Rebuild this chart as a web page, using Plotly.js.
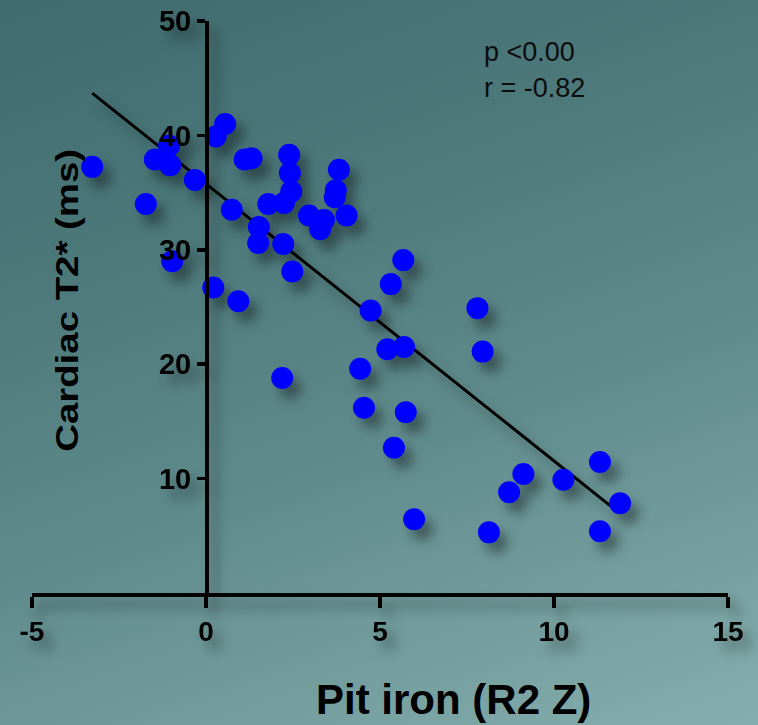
<!DOCTYPE html>
<html>
<head>
<meta charset="utf-8">
<script src="https://cdn.plot.ly/plotly-3.0.1.min.js"></script>
<style>
  html, body { margin: 0; padding: 0; }
  body {
    width: 758px; height: 725px; overflow: hidden;
    background: linear-gradient(160deg, #3f6b6f 0%, #4d797b 30%, #618c8d 60%, #86aeae 100%);
  }
  #chart { width: 758px; height: 725px; }
  #chart .svg-container > svg.main-svg:first-of-type {
    filter: drop-shadow(8px 10px 6px rgba(0,0,0,0.38));
  }
</style>
</head>
<body>
<div id="chart"></div>
<script>
// Scatter data: Pit iron (R2 Z) vs Cardiac T2* (ms)
const pitIron = [
  -3.27, -1.47, -1.06, -1.03, -1.73, -0.32, 0.28, 0.55, 1.11, 1.31,
  0.74, -0.97, 0.21, 0.93, 2.39, 2.41, 2.45, 2.24, 1.79, 3.82,
  3.73, 3.70, 2.96, 3.39, 3.28, 4.04, 1.52, 1.50, 2.22, 2.48,
  4.73, 5.67, 5.31, 7.80, 5.21, 5.69, 7.95, 4.43, 2.19, 4.54,
  5.74, 5.40, 5.98, 8.13, 8.71, 9.12, 10.27, 11.32, 11.90, 11.32
];
const cardiacT2 = [
  37.25, 37.9, 39.1, 37.4, 34.0, 36.1, 39.9, 41.0, 37.9, 38.0,
  33.5, 29.0, 26.7, 25.5, 38.3, 36.7, 35.1, 34.1, 34.0, 37.0,
  35.2, 34.6, 33.0, 32.6, 31.8, 33.0, 32.0, 30.6, 30.5, 28.1,
  24.7, 29.1, 27.0, 24.9, 21.3, 21.5, 21.1, 19.6, 18.8, 16.2,
  15.8, 12.7, 6.45, 5.3, 8.8, 10.4, 9.9, 11.45, 7.85, 5.4
];
// Regression line end points
const fitX = [-3.27, 11.63];
const fitY = [43.7, 7.6];

const xTicks = [-5, 0, 5, 10, 15];
const yTicks = [10, 20, 30, 40, 50];

const statP = "p <0.00";
const statR = "r = -0.82";
const xTitle = "Pit iron (R2 Z)";
const yTitle = "Cardiac T2* (ms)";

const tickFont = "Liberation Sans, Arial, sans-serif";
const mainFont = "Liberation Sans, Arial, sans-serif";

const traces = [
  {
    x: fitX, y: fitY, type: 'scatter', mode: 'lines',
    line: { color: '#000000', width: 3 },
    hoverinfo: 'skip', showlegend: false
  },
  {
    x: pitIron, y: cardiacT2, type: 'scatter', mode: 'markers',
    marker: { color: '#0000ff', size: 22, line: { width: 0 } },
    showlegend: false, cliponaxis: false
  }
];

const layout = {
  width: 758, height: 725,
  margin: { l: 32, r: 30, t: 21, b: 132 },
  paper_bgcolor: 'rgba(0,0,0,0)',
  plot_bgcolor: 'rgba(0,0,0,0)',
  showlegend: false,
  xaxis: {
    range: [-5, 15], tickvals: xTicks, ticktext: xTicks.map(String),
    showgrid: false, zeroline: false,
    showline: true, linecolor: '#000', linewidth: 3.5,
    ticks: 'outside', ticklen: 11, tickwidth: 3.5, tickcolor: '#000',
    tickfont: { family: tickFont, size: 28, color: '#000', weight: 'bold' },
    fixedrange: true
  },
  yaxis: {
    range: [0, 50], tickvals: yTicks, ticktext: yTicks.map(String),
    anchor: 'free', position: 0.25,
    showgrid: false, zeroline: false,
    showline: true, linecolor: '#000', linewidth: 3.5,
    ticks: 'outside', ticklen: 8, tickwidth: 3.5, tickcolor: '#000',
    tickfont: { family: tickFont, size: 29, color: '#000', weight: 'bold' },
    fixedrange: true
  },
  annotations: [
    {
      text: statP, xref: 'paper', yref: 'paper', x: 0.647, y: 0.946,
      xanchor: 'left', yanchor: 'middle', showarrow: false,
      font: { family: mainFont, size: 27, color: '#0d0d0d' }
    },
    {
      text: statR, xref: 'paper', yref: 'paper', x: 0.647, y: 0.883,
      xanchor: 'left', yanchor: 'middle', showarrow: false,
      font: { family: mainFont, size: 27, color: '#0d0d0d' }
    },
    {
      text: '<b>' + xTitle + '</b>', xref: 'paper', yref: 'paper', x: 0.605, y: -0.187,
      xanchor: 'center', yanchor: 'middle', showarrow: false,
      font: { family: mainFont, size: 42, color: '#000' }
    },
    {
      text: '<b>' + yTitle + '</b>', xref: 'paper', yref: 'paper', x: 0.051, y: 0.512,
      xanchor: 'center', yanchor: 'middle', showarrow: false, textangle: -90,
      font: { family: mainFont, size: 32, color: '#000' }
    }
  ]
};

Plotly.newPlot('chart', traces, layout, { displayModeBar: false, staticPlot: true }).then(function () {
  document.querySelectorAll('#chart text.annotation-text').forEach(function (el) {
    if (el.textContent.indexOf('Cardiac') === 0) {
      el.style.transformBox = 'fill-box';
      el.style.transformOrigin = 'center';
      el.style.transform = 'scaleX(1.2)';
    }
  });
});
</script>
</body>
</html>
